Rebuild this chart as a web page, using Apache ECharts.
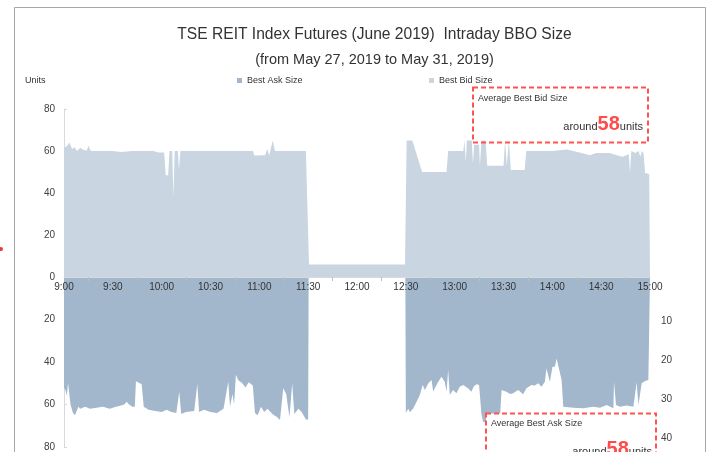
<!DOCTYPE html>
<html>
<head>
<meta charset="utf-8">
<script src="https://cdn.jsdelivr.net/npm/echarts@6/dist/echarts.min.js"></script>
<style>
  html, body { margin: 0; padding: 0; background: #fff; }
  #chart { width: 713px; height: 452px; }
</style>
</head>
<body>
<div id="chart"></div>
<script>
// minutes after 9:00 -> units
const bidTimes = [0, 2, 3.3, 5, 6.5, 8, 10, 12, 14, 15, 16.5, 30, 35, 42, 55, 58, 61.5, 62.5, 64, 64.8,
  66.5, 67.2, 68, 70, 70.6, 71.5, 116, 117, 123.5, 124.9, 126.1, 128.2, 129.6, 148.6, 150.5,
  209.5, 210.5, 214, 220, 235, 236, 245.3, 246, 246.8, 247.5, 250.5, 251.2, 252, 255, 255.5,
  256.5, 259, 260, 270, 271, 272, 273.3, 274.5, 283, 284, 300, 309, 318, 323, 327, 335, 343,
  347, 347.7, 348.5, 351, 353, 354, 355, 356, 357, 359.5, 360];
const bidSizes = [61.5, 62.5, 64, 61, 61.8, 60, 61.5, 60.5, 60.2, 62.5, 60, 60, 59.5, 60, 60, 59.3, 59.3, 48.5, 48.5, 60,
  60, 38, 60, 60, 51, 60, 60, 57.8, 58, 61, 57.8, 65, 60, 60, 6,
  6, 65, 65, 50, 50, 60, 60, 65, 55, 65, 65, 54, 63, 63, 53,
  65, 65, 53, 53, 65, 53, 65, 51, 51, 60, 60, 60.7, 59, 58, 59, 59, 57.3,
  58.5, 49.5, 60, 59, 60, 57.3, 60, 59, 49.5, 49, 49];

const askTimes = [0, 1, 1.7, 2.5, 4, 5.5, 6.8, 8.8, 10, 13, 16, 20, 24, 28, 32, 35, 37, 38.5, 40, 42,
  43.5, 44.2, 47.7, 49, 52, 56, 60, 63, 66, 69, 70.8, 72, 75, 80, 81.9, 83, 86, 90, 94, 98,
  100.9, 102, 103.5, 104.5, 105.6, 107, 109.5, 111.5, 113.5, 116, 117.3, 119, 121, 123, 125,
  128, 131, 132.7, 134.7, 136.5, 138.5, 140.2, 141.5, 144, 146, 148.6, 150, 150.3,
  209.7, 210, 211.5, 212.5, 214.6, 216.6, 218.6, 220.3, 221.7, 223.8, 225.8, 226.8, 227.8,
  229.9, 231.9, 232.9, 233.9, 235, 236, 237, 239, 241.1, 243.1, 245.2, 246.2, 248.2, 250.3,
  251.7, 253.4, 255, 256.4, 257.4, 262, 267.7, 268.8, 269.8, 271.8, 274, 275.9, 279, 282.1,
  284.1, 287.2, 289.2, 291.3, 293.4, 295.4, 296.4, 298.5, 300.1, 301.6, 302.6, 303.6, 305.7,
  306.7, 312.9, 319, 325.2, 329.3, 333.4, 337.5, 337.9, 339.1, 341.6, 345.7, 349.8, 351.8,
  352.9, 354.9, 357, 359, 360];
const askSizes = [52, 53.5, 56, 50, 60, 64, 65, 61, 62, 61, 62, 61.5, 61, 62, 61, 60.5, 60, 58.7, 60, 61,
  61, 49, 50.5, 61, 62.5, 63, 63.5, 62.5, 63.5, 64, 54, 64.5, 63.5, 63, 50.4, 63.5, 62.5, 63.5, 64, 62,
  49.3, 61, 55, 60, 46, 48.5, 50, 52, 49.5, 51, 64, 65, 61, 63.5, 62,
  64.5, 66, 67.3, 52.4, 55, 66, 50, 64.5, 62, 63.5, 67, 67, 0,
  0, 64, 62, 63.7, 61.8, 58.7, 55.5, 50.8, 53.2, 50, 48.5, 54, 52.4,
  49.3, 46.9, 46.4, 49.3, 54, 43.8, 55.5, 53.2, 54.7, 51.6, 50.8, 50, 52.4, 54,
  51.5, 50.5, 50.8, 64.2, 68.1, 68.9, 68.5, 53.2, 54, 54, 55, 54.7, 53.2, 55.2,
  52.4, 50.8, 51.1, 50, 51.6, 49.3, 43, 49.3, 42.2, 42.2, 38.3, 37.5, 48.5,
  61, 61.5, 61.8, 61, 61.5, 60.2, 61.8, 49.3, 60.2, 61, 60.5, 61, 49.5,
  60.2, 50, 48.9, 48.5, 48.5];

// ticks sit between the half-hour labels
const quarterTicks = [15, 45, 75, 105, 135, 165, 195, 225, 255, 285, 315, 345];
const rightAxisLabels = [10, 20, 30, 40];

const avgBid = 58;
const avgAsk = 58;

const zip = (xs, ys) => xs.map((x, i) => [x, ys[i]]);

function timeLabel(v) {
  const h = 9 + Math.floor(v / 60);
  const m = v % 60;
  return h + ":" + (m < 10 ? "0" + m : m);
}

const font = "Liberation Sans";
const axisGray = "#d9d9d9";

var chart = echarts.init(document.getElementById("chart"));

// "around 58 units" with a big red number
function averageText(x, y, value) {
  return {
    type: "text",
    z: 11,
    x: x,
    y: y,
    style: {
      text: "{a|around}{n|" + value + "}{a|units}",
      fontFamily: font,
      textAlign: "right",
      textVerticalAlign: "bottom",
      rich: {
        a: { fontSize: 11, fill: "#333", verticalAlign: "bottom", padding: [0, 0, 2, 0] },
        n: { fontSize: 20, fontWeight: "bold", fill: "#ff4b4b", verticalAlign: "bottom" },
      },
    },
  };
}

var option = {
  animation: false,
  textStyle: { fontFamily: font },
  grid: [
    { left: 64, right: 63, top: 109, height: 168 },
    { left: 64, right: 63, top: 277, height: 170 },
  ],
  legend: [
    {
      data: ["Best Ask Size"],
      left: 237,
      top: 76,
      padding: 0,
      icon: "rect",
      itemWidth: 5,
      itemHeight: 5,
      textStyle: { fontSize: 9, color: "#333" },
    },
    {
      data: ["Best Bid Size"],
      left: 429,
      top: 76,
      padding: 0,
      icon: "rect",
      itemWidth: 5,
      itemHeight: 5,
      textStyle: { fontSize: 9, color: "#333" },
    },
  ],
  xAxis: [
    {
      gridIndex: 0,
      type: "value",
      min: 0,
      max: 360,
      interval: 30,
      z: 5,
      axisLine: { lineStyle: { color: axisGray } },
      axisTick: {
        show: true,
        customValues: quarterTicks,
        length: 4,
        lineStyle: { color: "#bfbfbf" },
      },
      axisLabel: {
        formatter: timeLabel,
        margin: 5,
        fontSize: 10,
        color: "#333",
      },
      splitLine: { show: false },
    },
    {
      gridIndex: 1,
      type: "value",
      min: 0,
      max: 360,
      show: false,
    },
  ],
  yAxis: [
    {
      gridIndex: 0,
      type: "value",
      min: 0,
      max: 80,
      interval: 20,
      axisLine: { show: true, lineStyle: { color: axisGray } },
      axisTick: { show: true, inside: true, length: 3, lineStyle: { color: axisGray } },
      axisLabel: { fontSize: 10, margin: 9, color: "#404040" },
      splitLine: { show: false },
    },
    {
      gridIndex: 1,
      type: "value",
      inverse: true,
      min: 0,
      max: 80,
      interval: 20,
      axisLine: { show: true, lineStyle: { color: axisGray } },
      axisTick: { show: true, inside: true, length: 3, lineStyle: { color: axisGray } },
      axisLabel: { fontSize: 10, margin: 9, color: "#404040", showMinLabel: false },
      splitLine: { show: false },
    },
    {
      gridIndex: 1,
      type: "value",
      position: "right",
      inverse: true,
      min: -1.2,
      max: 42.2,
      axisLine: { show: false },
      axisTick: { show: false },
      axisLabel: {
        customValues: rightAxisLabels,
        fontSize: 10,
        margin: 11,
        color: "#404040",
      },
      splitLine: { show: false },
    },
  ],
  series: [
    {
      name: "Best Ask Size",
      type: "line",
      xAxisIndex: 1,
      yAxisIndex: 1,
      data: zip(askTimes, askSizes),
      symbol: "none",
      lineStyle: { width: 0 },
      itemStyle: { color: "#a2b7cc" },
      areaStyle: { color: "#a2b7cc", opacity: 1 },
    },
    {
      name: "Best Bid Size",
      type: "line",
      xAxisIndex: 0,
      yAxisIndex: 0,
      data: zip(bidTimes, bidSizes),
      symbol: "none",
      lineStyle: { width: 0 },
      itemStyle: { color: "#c9d5e1" },
      areaStyle: { color: "#c9d5e1", opacity: 1 },
    },
  ],
  graphic: [
    // outer frame
    {
      type: "rect",
      shape: { x: 14.5, y: 7.5, width: 691, height: 470 },
      style: { fill: "none", stroke: "#a6a6a6", lineWidth: 1 },
      silent: true,
    },
    {
      type: "circle",
      shape: { cx: 1, cy: 249, r: 2 },
      style: { fill: "#e83a3a" },
    },
    {
      type: "text",
      x: 374.5,
      y: 35,
      style: {
        text: "TSE REIT Index Futures (June 2019)  Intraday BBO Size",
        fontFamily: font,
        fontSize: 15.6,
        fill: "#333",
        textAlign: "center",
        textVerticalAlign: "middle",
      },
    },
    {
      type: "text",
      x: 374.5,
      y: 60,
      style: {
        text: "(from May 27, 2019 to May 31, 2019)",
        fontFamily: font,
        fontSize: 14.5,
        fill: "#333",
        textAlign: "center",
        textVerticalAlign: "middle",
      },
    },
    {
      type: "text",
      x: 25,
      y: 80.5,
      style: {
        text: "Units",
        fontFamily: font,
        fontSize: 9,
        fill: "#333",
        textVerticalAlign: "middle",
      },
    },
    // average bid box
    {
      type: "rect",
      z: 10,
      shape: { x: 473, y: 87.5, width: 175, height: 55 },
      style: { fill: "none", stroke: "#ff5252", lineWidth: 2, lineDash: [5, 3] },
    },
    {
      type: "text",
      z: 11,
      x: 478,
      y: 99,
      style: {
        text: "Average Best Bid Size",
        fontFamily: font,
        fontSize: 9,
        fill: "#333",
        textVerticalAlign: "middle",
      },
    },
    averageText(643, 134, avgBid),
    // average ask box
    {
      type: "rect",
      z: 10,
      shape: { x: 486, y: 413.5, width: 170, height: 60 },
      style: { fill: "#fff", stroke: "#ff5252", lineWidth: 2, lineDash: [5, 3] },
    },
    {
      type: "text",
      z: 11,
      x: 491,
      y: 424,
      style: {
        text: "Average Best Ask Size",
        fontFamily: font,
        fontSize: 9,
        fill: "#333",
        textVerticalAlign: "middle",
      },
    },
    averageText(652, 459, avgAsk),
  ],
};

chart.setOption(option);
</script>
</body>
</html>
